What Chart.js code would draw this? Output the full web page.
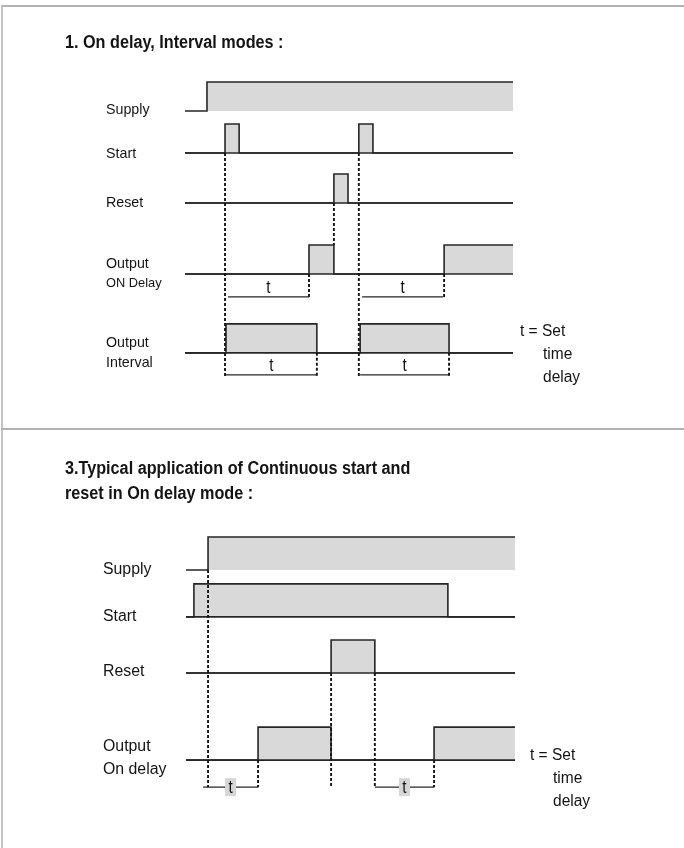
<!DOCTYPE html>
<html>
<head>
<meta charset="utf-8">
<title>Timing diagrams</title>
<script src="https://cdn.jsdelivr.net/npm/chart.js@4.4.1/dist/chart.umd.min.js"></script>
<style>
  html, body { margin: 0; padding: 0; background: #fff; }
  body { width: 684px; height: 848px; position: relative; overflow: hidden; }
  .frame { position: absolute; left: 1px; top: 5px; right: 0; bottom: 0; border-left: 2px solid #c4c4c4; border-top: 2px solid #b2b2b2; }
  .divider { position: absolute; left: 1px; right: 0; top: 428px; height: 2px; background: #b2b2b2; }
  canvas { position: absolute; left: 0; }
  #c1 { top: 0; }
  #c3 { top: 429px; }
</style>
</head>
<body>
<div class="frame"></div>
<div class="divider"></div>
<canvas id="c1" width="684" height="429"></canvas>
<canvas id="c3" width="684" height="419"></canvas>
<script>
// timeline runs 0..100 in each diagram; pulses are [on, off], off = null stays high
// 1. On delay, Interval modes
const p1Supply   = [[6.7, null]];
const p1Start    = [[12.2, 16.5], [53.0, 57.3]];
const p1Reset    = [[45.4, 49.7]];
const p1OnDelay  = [[37.8, 45.4], [79.0, null]];
const p1Interval = [[12.5, 40.2], [53.4, 80.5]];
const p1OnDelayT  = [[13.1, 37.8], [54.0, 78.7]];
const p1IntervalT = [[12.5, 40.2], [53.4, 80.5]];

// 3. Continuous start and reset in On delay mode
const p3Supply  = [[6.7, null]];
const p3Start   = [[2.4, 79.6]];
const p3Reset   = [[44.1, 57.4]];
const p3Output  = [[21.9, 44.1], [75.4, null]];
const p3OutputT = [[5.2, 21.9], [57.4, 75.4]];

const p1Title = ['1. On delay, Interval modes :'];
const p3Title = ['3.Typical application of Continuous start and', 'reset in On delay mode :'];
const noteText = ['t = Set', 'time', 'delay'];

const X_MIN = 0, X_MAX = 100;
const INK = '#262626', FILL = '#d9d9d9', DASH = '#151515', TEXT = '#141414';
const FONT = '"Liberation Sans", Arial, sans-serif';

function wave(pulses, base) {
  const pts = [{x: X_MIN, y: base}];
  for (const [on, off] of pulses) {
    pts.push({x: on, y: base}, {x: on, y: base + 1});
    if (off === null) { pts.push({x: X_MAX, y: base + 1}); return pts; }
    pts.push({x: off, y: base + 1}, {x: off, y: base});
  }
  pts.push({x: X_MAX, y: base});
  return pts;
}

function seg(x1, y1, x2, y2) { return [{x: x1, y: y1}, {x: x2, y: y2}]; }

function buildDatasets(p) {
  const ds = [];
  p.marks.forEach(m => ds.push({data: seg(m.x, m.from, m.x, m.to), borderColor: DASH, borderWidth: 1.9, borderDash: [3, 2], fill: false}));
  p.spans.forEach(s => s.pairs.forEach(([a, b]) => ds.push({data: seg(a, s.level, b, s.level), borderColor: INK, borderWidth: 1.4, fill: false})));
  p.rows.forEach(r => {
    if (r.line) ds.push({data: seg(X_MIN, r.base, X_MAX, r.base), borderColor: INK, borderWidth: 1.6, fill: false});
    ds.push({data: wave(r.pulses, r.base), borderColor: INK, borderWidth: 1.6, backgroundColor: FILL, fill: {value: r.base}});
  });
  ds.forEach(d => { d.pointRadius = 0; d.tension = 0; d.clip = false; d.borderJoinStyle = 'miter'; });
  return ds;
}

function txt(ctx, s, x, y, font, sx, align) {
  ctx.save();
  ctx.font = font;
  ctx.textAlign = align || 'left';
  ctx.textBaseline = 'middle';
  ctx.translate(x, y);
  ctx.scale(sx, 1);
  ctx.fillText(s, 0, 0);
  ctx.restore();
}

function textPlugin(p) {
  return {
    id: 'diagramText',
    afterDraw(chart) {
      const ctx = chart.ctx, xs = chart.scales.x, ys = chart.scales.y;
      ctx.save();
      ctx.fillStyle = TEXT;
      p.title.forEach((t, i) => txt(ctx, t, 65, p.titleY + i * 25, 'bold 18px ' + FONT, 0.9));
      p.rows.forEach(r => {
        const y0 = ys.getPixelForValue(r.base);
        r.labels.forEach(l => txt(ctx, l[0], p.labelX, y0 + l[1], (l[2] || p.labelSize) + 'px ' + FONT, p.labelSx));
      });
      p.spans.forEach(s => s.pairs.forEach(([a, b]) => {
        const cx = xs.getPixelForValue((a + b) / 2), cy = ys.getPixelForValue(s.level);
        if (p.boxedT) {
          ctx.fillStyle = '#d6d6d6';
          ctx.fillRect(cx - 5.5, cy - 9, 11, 18);
          ctx.fillStyle = TEXT;
          txt(ctx, 't', cx, cy + 0.5, '19px ' + FONT, 0.8, 'center');
        } else {
          txt(ctx, 't', cx, cy - 9, '19px ' + FONT, 0.8, 'center');
        }
      }));
      noteText.forEach((t, i) => txt(ctx, t, p.note.x + (i ? 23 : 0), p.note.y + i * 23, '16px ' + FONT, 0.97));
      ctx.restore();
    }
  };
}

function draw(p) {
  new Chart(document.getElementById(p.canvas), {
    type: 'line',
    data: {datasets: buildDatasets(p)},
    options: {
      responsive: false,
      animation: false,
      devicePixelRatio: 1,
      events: [],
      layout: {padding: p.pad},
      scales: {
        x: {type: 'linear', min: X_MIN, max: X_MAX, display: false},
        y: {type: 'linear', min: p.yMin, max: p.yMax, display: false}
      },
      plugins: {legend: {display: false}, tooltip: {enabled: false}, filler: {drawTime: 'beforeDatasetsDraw'}}
    },
    plugins: [textPlugin(p)]
  });
}

// row baselines are in pulse-height units below the supply row
draw({
  canvas: 'c1',
  pad: {left: 185, right: 171, top: 82, bottom: 28},
  yMin: -10, yMax: 1,
  title: p1Title, titleY: 43,
  labelX: 106, labelSize: 15, labelSx: 0.95,
  note: {x: 520, y: 332},
  boxedT: false,
  rows: [
    {base: 0,     pulses: p1Supply,   line: false, labels: [['Supply', -1]]},
    {base: -1.45, pulses: p1Start,    line: true,  labels: [['Start', 1]]},
    {base: -3.17, pulses: p1Reset,    line: true,  labels: [['Reset', 0]]},
    {base: -5.62, pulses: p1OnDelay,  line: true,  labels: [['Output', -10], ['ON Delay', 9, 13.5]]},
    {base: -8.34, pulses: p1Interval, line: true,  labels: [['Output', -10], ['Interval', 10]]}
  ],
  spans: [
    {level: -6.41, pairs: p1OnDelayT},
    {level: -9.10, pairs: p1IntervalT}
  ],
  marks: [
    {x: p1Start[0][0], from: -1.45, to: -9.2},
    {x: p1Start[1][0], from: -1.45, to: -9.2},
    {x: p1Reset[0][0], from: -3.17, to: -4.62},
    {x: p1OnDelay[0][0], from: -5.62, to: -6.41},
    {x: p1OnDelay[1][0], from: -5.62, to: -6.41},
    {x: p1Interval[0][1], from: -8.34, to: -9.2},
    {x: p1Interval[1][1], from: -8.34, to: -9.2}
  ]
});

draw({
  canvas: 'c3',
  pad: {left: 186, right: 169, top: 108, bottom: 47},
  yMin: -7, yMax: 1,
  title: p3Title, titleY: 40,
  labelX: 103, labelSize: 16, labelSx: 0.99,
  note: {x: 530, y: 327},
  boxedT: true,
  rows: [
    {base: 0,     pulses: p3Supply, line: false, labels: [['Supply', 0]]},
    {base: -1.42, pulses: p3Start,  line: true,  labels: [['Start', 0]]},
    {base: -3.12, pulses: p3Reset,  line: true,  labels: [['Reset', -1]]},
    {base: -5.76, pulses: p3Output, line: true,  labels: [['Output', -13], ['On delay', 10]]}
  ],
  spans: [
    {level: -6.58, pairs: p3OutputT}
  ],
  marks: [
    {x: p3Supply[0][0], from: 0, to: -6.58},
    {x: p3Reset[0][0], from: -3.12, to: -6.58},
    {x: p3Reset[0][1], from: -3.12, to: -6.58},
    {x: p3Output[0][0], from: -5.76, to: -6.58},
    {x: p3Output[1][0], from: -5.76, to: -6.58}
  ]
});
</script>
</body>
</html>
